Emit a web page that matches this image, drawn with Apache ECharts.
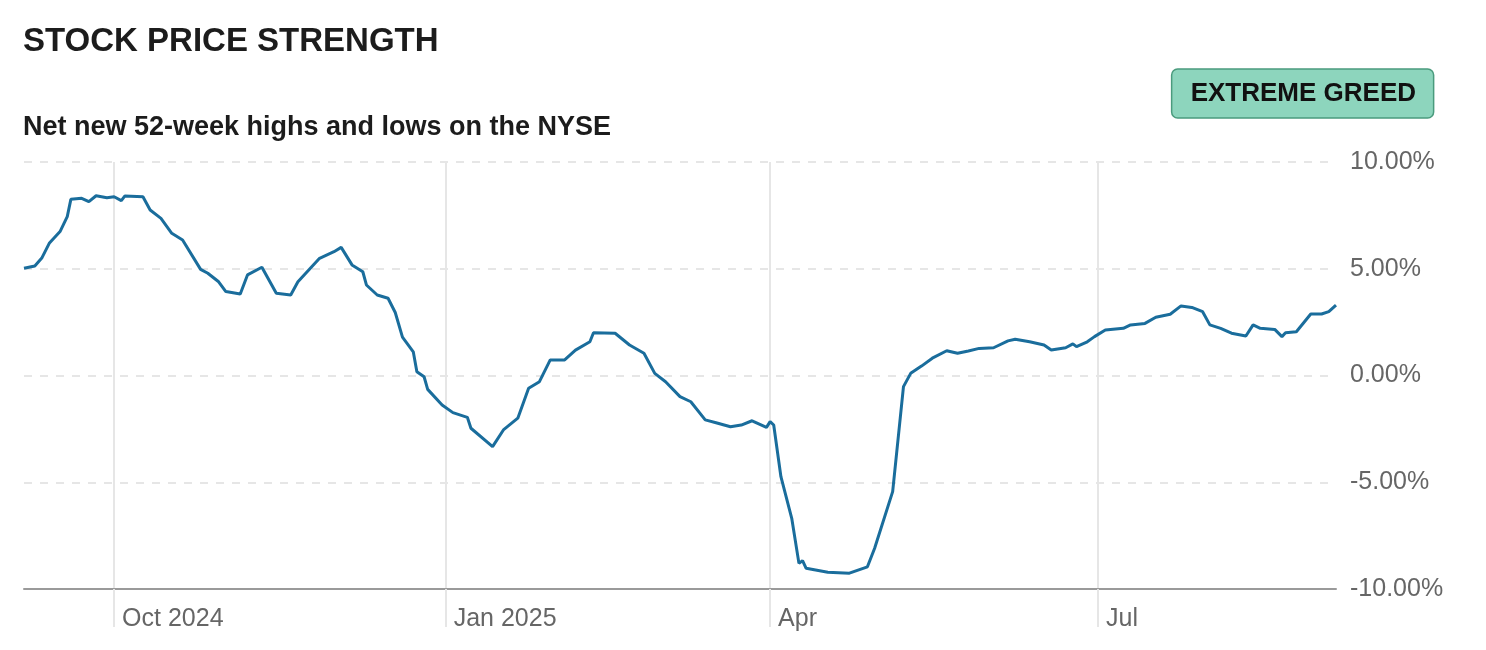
<!DOCTYPE html>
<html>
<head>
<meta charset="utf-8">
<title>Stock Price Strength</title>
<script src="https://cdn.jsdelivr.net/npm/echarts@6/dist/echarts.min.js"></script>
<style>
  html, body { margin: 0; padding: 0; background: #fff; }
  #chart { width: 1486px; height: 650px; }
</style>
</head>
<body>
<div id="chart"></div>
<script>
// net new 52-week highs minus lows, % of NYSE issues
const dates = [
  '2024-09-06', '2024-09-09', '2024-09-11', '2024-09-13', '2024-09-16', '2024-09-18', '2024-09-19',
  '2024-09-22', '2024-09-24', '2024-09-26', '2024-09-29', '2024-10-01', '2024-10-03', '2024-10-04',
  '2024-10-09', '2024-10-11', '2024-10-14', '2024-10-17', '2024-10-20', '2024-10-25', '2024-10-27',
  '2024-10-30', '2024-11-01', '2024-11-05', '2024-11-07', '2024-11-11', '2024-11-15', '2024-11-19',
  '2024-11-21', '2024-11-27', '2024-12-01', '2024-12-03', '2024-12-06', '2024-12-09', '2024-12-10',
  '2024-12-13', '2024-12-16', '2024-12-18', '2024-12-20', '2024-12-23', '2024-12-24', '2024-12-26',
  '2024-12-27', '2024-12-31', '2025-01-03', '2025-01-07', '2025-01-08', '2025-01-14', '2025-01-17',
  '2025-01-21', '2025-01-24', '2025-01-27', '2025-01-30', '2025-02-03', '2025-02-06', '2025-02-10',
  '2025-02-11', '2025-02-17', '2025-02-21', '2025-02-25', '2025-02-28', '2025-03-03', '2025-03-07',
  '2025-03-10', '2025-03-14', '2025-03-17', '2025-03-21', '2025-03-24', '2025-03-27', '2025-03-31',
  '2025-04-01', '2025-04-02', '2025-04-04', '2025-04-07', '2025-04-09', '2025-04-10', '2025-04-11',
  '2025-04-17', '2025-04-23', '2025-04-28', '2025-04-30', '2025-05-05', '2025-05-08', '2025-05-10',
  '2025-05-13', '2025-05-16', '2025-05-20', '2025-05-23', '2025-05-26', '2025-05-29', '2025-06-02',
  '2025-06-06', '2025-06-08', '2025-06-12', '2025-06-16', '2025-06-18', '2025-06-22', '2025-06-24',
  '2025-06-25', '2025-06-28', '2025-06-30', '2025-07-03', '2025-07-08', '2025-07-10', '2025-07-14',
  '2025-07-17', '2025-07-21', '2025-07-24', '2025-07-27', '2025-07-30', '2025-08-01', '2025-08-04',
  '2025-08-07', '2025-08-11', '2025-08-13', '2025-08-15', '2025-08-19', '2025-08-21', '2025-08-22',
  '2025-08-25', '2025-08-29', '2025-09-01', '2025-09-03', '2025-09-05'
]
const values = [
  5.02, 5.13, 5.52, 6.19, 6.74, 7.44, 8.25,
  8.30, 8.14, 8.42, 8.33, 8.37, 8.19, 8.41,
  8.37, 7.75, 7.36, 6.66, 6.35, 4.97, 4.79,
  4.39, 3.93, 3.82, 4.71, 5.07, 3.85, 3.77,
  4.39, 5.49, 5.80, 6.00, 5.18, 4.86, 4.24,
  3.77, 3.62, 2.95, 1.80, 1.11, 0.18, -0.06,
  -0.65, -1.38, -1.74, -1.96, -2.47, -3.33, -2.55,
  -2.00, -0.60, -0.29, 0.73, 0.73, 1.19, 1.58,
  2.00, 1.98, 1.43, 1.04, 0.10, -0.29, -0.99,
  -1.23, -2.08, -2.21, -2.40, -2.32, -2.12, -2.43,
  -2.16, -2.32, -4.74, -6.69, -8.80, -8.67, -9.03,
  -9.22, -9.26, -8.96, -8.09, -5.44, -0.52, 0.10,
  0.44, 0.81, 1.16, 1.04, 1.15, 1.27, 1.30,
  1.62, 1.70, 1.58, 1.43, 1.19, 1.30, 1.48,
  1.35, 1.58, 1.82, 2.13, 2.21, 2.37, 2.44,
  2.73, 2.87, 3.26, 3.19, 2.99, 2.37, 2.21,
  1.98, 1.85, 2.37, 2.21, 2.16, 1.82, 2.00,
  2.05, 2.88, 2.88, 2.99, 3.30
]
// x axis ticks (quarters) and their labels
const tickDates = ['2024-10-01', '2025-01-01', '2025-04-01', '2025-07-01']
const tickLabels = ['Oct 2024', 'Jan 2025', 'Apr', 'Jul']
// y axis
const yMin = -10
const yMax = 10
const yStep = 5
const rating = 'EXTREME GREED'

const FONT = '"Liberation Sans", Arial, Helvetica, sans-serif'

// 'yyyy-mm-dd' -> ms (UTC), used as the x value
function toTs(s) {
  const p = s.split('-')
  return Date.UTC(+p[0], +p[1] - 1, +p[2])
}
const tickTs = tickDates.map(toTs)

const chart = echarts.init(document.getElementById('chart'), null, { renderer: 'canvas' })

const option = {
  backgroundColor: '#fff',
  animation: false,
  title: [
    {
      text: 'STOCK PRICE STRENGTH',
      left: 23,
      top: 25,
      padding: 0,
      textStyle: { fontFamily: FONT, fontSize: 33, fontWeight: 'bold', color: '#1c1c1c', lineHeight: 33 }
    },
    {
      text: 'Net new 52-week highs and lows on the NYSE',
      left: 23,
      top: 114,
      padding: 0,
      textStyle: { fontFamily: FONT, fontSize: 27, fontWeight: 'bold', color: '#1c1c1c', lineHeight: 28 }
    },
    {
      // rating badge
      text: rating,
      right: 52,
      top: 69,
      padding: [11, 18, 11, 19],
      backgroundColor: '#8dd5bd',
      borderColor: '#4a9b7d',
      borderWidth: 1.5,
      borderRadius: 6,
      textStyle: { fontFamily: FONT, fontSize: 26, fontWeight: 'bold', color: '#111', lineHeight: 27 }
    }
  ],
  grid: {
    left: 24,
    right: 150,
    top: 162,
    bottom: 61,
    containLabel: false
  },
  xAxis: {
    type: 'value',
    min: toTs(dates[0]),
    max: toTs(dates[dates.length - 1]),
    axisLine: { show: true, onZero: false, lineStyle: { color: '#9a9a9a', width: 2 } },
    axisTick: {
      show: true,
      customValues: tickTs,
      length: 38,
      inside: false,
      lineStyle: { color: '#e6e6e6', width: 2 }
    },
    splitLine: { show: true, lineStyle: { color: '#e6e6e6', width: 2, type: 'solid' } },
    axisLabel: {
      customValues: tickTs,
      fontFamily: FONT,
      fontSize: 25,
      color: '#666',
      align: 'left',
      margin: 18,
      padding: [0, 0, 0, 8],
      formatter: function(value) {
        const i = tickTs.indexOf(value)
        return i >= 0 ? tickLabels[i] : ''
      }
    }
  },
  yAxis: {
    type: 'value',
    position: 'right',
    min: yMin,
    max: yMax,
    interval: yStep,
    axisLine: { show: false },
    axisTick: { show: false },
    splitLine: { show: true, lineStyle: { color: '#dedede', width: 1.5, type: [8, 8] } },
    axisLabel: {
      fontFamily: FONT,
      fontSize: 25,
      color: '#666',
      margin: 14,
      padding: [7, 0, 0, 0],
      formatter: function(v) { return v.toFixed(2) + '%' }
    }
  },
  series: [
    {
      name: 'Stock price strength',
      type: 'line',
      data: dates.map((d, i) => [toTs(d), values[i]]),
      showSymbol: false,
      symbol: 'none',
      smooth: false,
      lineStyle: { color: '#1a6d9c', width: 3 },
      z: 5
    }
  ]
}

chart.setOption(option)
</script>
</body>
</html>
